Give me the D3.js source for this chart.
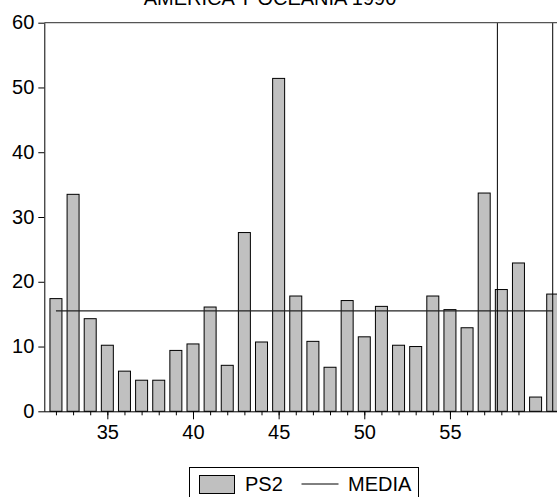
<!DOCTYPE html>
<html>
<head>
<meta charset="utf-8">
<script src="https://cdn.jsdelivr.net/npm/d3@7"></script>
<style>
html,body{margin:0;padding:0;background:#fff;}
svg{display:block;}
text{font-family:"Liberation Sans",Arial,sans-serif;fill:#000;}
</style>
</head>
<body>
<svg id="chart" width="557" height="497"></svg>
<script>
const title = "AMERICA Y OCEANIA 1990";
const categories = [32,33,34,35,36,37,38,39,40,41,42,43,44,45,46,47,48,49,50,51,52,53,54,55,56,57,58,59,60,61];
const ps2 = [17.4,33.5,14.3,10.2,6.2,4.8,4.8,9.4,10.4,16.1,7.1,27.6,10.7,51.4,17.8,10.8,6.8,17.1,11.5,16.2,10.2,10.0,17.8,15.7,12.9,33.7,18.8,22.9,2.2,18.1];
const media = 15.5;
const mediaRange = [32,61];
const yTicks = [0,10,20,30,40,50,60];
const xMinorTicks = [32,33,34,35,36,37,38,39,40,41,42,43,44,45,46,47,48,49,50,51,52,53,54,55,56,57,58,59];
const xLabelTicks = [35,40,45,50,55];
const vLines = [57.77,61];
const legendItems = ["PS2","MEDIA"];

(function(){
const svg = d3.select("#chart");
const plotLeft = 44.3, plotTop = 22.7, plotBottom = 411.3;
const x = d3.scaleLinear().domain([31.32, 62]).range([plotLeft, plotLeft + 30.68*17.13]);
const y = d3.scaleLinear().domain([0,60]).range([plotBottom, plotTop]);
const barW = x(0.7) - x(0);
const FF = '"Liberation Sans",Arial,sans-serif';

// title
svg.append("text").attr("x",270).attr("y",5).attr("text-anchor","middle")
  .attr("font-size","20px").text(title);

// bars
svg.append("g").selectAll("rect").data(categories).join("rect")
  .attr("x",(d)=>x(d)-barW/2).attr("width",barW)
  .attr("y",(d,i)=>y(ps2[i])).attr("height",(d,i)=>y(0)-y(ps2[i]))
  .attr("fill","#c0c0c0").attr("stroke","#000").attr("stroke-width",1);

// media line
svg.append("line").attr("x1",x(mediaRange[0])).attr("x2",x(mediaRange[1]))
  .attr("y1",y(media)).attr("y2",y(media)).attr("stroke","#222").attr("stroke-width",1.2);

// vertical lines
svg.append("g").selectAll("line").data(vLines).join("line")
  .attr("x1",d=>x(d)).attr("x2",d=>x(d)).attr("y1",y(60)).attr("y2",y(0))
  .attr("stroke","#000").attr("stroke-width",1);

// top border
svg.append("line").attr("x1",plotLeft).attr("x2",557).attr("y1",y(60)).attr("y2",y(60))
  .attr("stroke","#555").attr("stroke-width",1.2);

// y axis
const yAxis = d3.axisLeft(y).tickValues(yTicks).tickSize(6).tickPadding(4).tickSizeOuter(0);
const gy = svg.append("g").attr("transform",`translate(${plotLeft},0)`).call(yAxis);
gy.selectAll("text").attr("font-size","20px").attr("font-family",FF).attr("dy","0.3em");
gy.select(".domain").attr("stroke","#000");

// x axis minor ticks
const xAxisMinor = d3.axisBottom(x).tickValues(xMinorTicks).tickSize(4).tickFormat("").tickSizeOuter(0);
const gx = svg.append("g").attr("transform",`translate(0,${plotBottom})`).call(xAxisMinor);
gx.select(".domain").attr("d",`M${plotLeft},0.5H557`).attr("stroke","#000");
const xAxisMajor = d3.axisBottom(x).tickValues(xLabelTicks).tickSize(8).tickPadding(6).tickSizeOuter(0);
const gx2 = svg.append("g").attr("transform",`translate(0,${plotBottom})`).call(xAxisMajor);
gx2.select(".domain").remove();
gx2.selectAll("text").attr("font-size","20px").attr("font-family",FF);

// legend
const lg = svg.append("g");
lg.append("rect").attr("x",189.5).attr("y",467.5).attr("width",229).attr("height",40)
  .attr("fill","#fff").attr("stroke","#000");
lg.append("rect").attr("x",199.5).attr("y",475.5).attr("width",35).attr("height",18)
  .attr("fill","#c0c0c0").attr("stroke","#000");
lg.append("text").attr("x",245).attr("y",491).attr("font-size","20px").text(legendItems[0]);
lg.append("line").attr("x1",301.5).attr("x2",338.5).attr("y1",484).attr("y2",484).attr("stroke","#000");
lg.append("text").attr("x",348).attr("y",491).attr("font-size","20px").text(legendItems[1]);
})();
</script>
</body>
</html>
